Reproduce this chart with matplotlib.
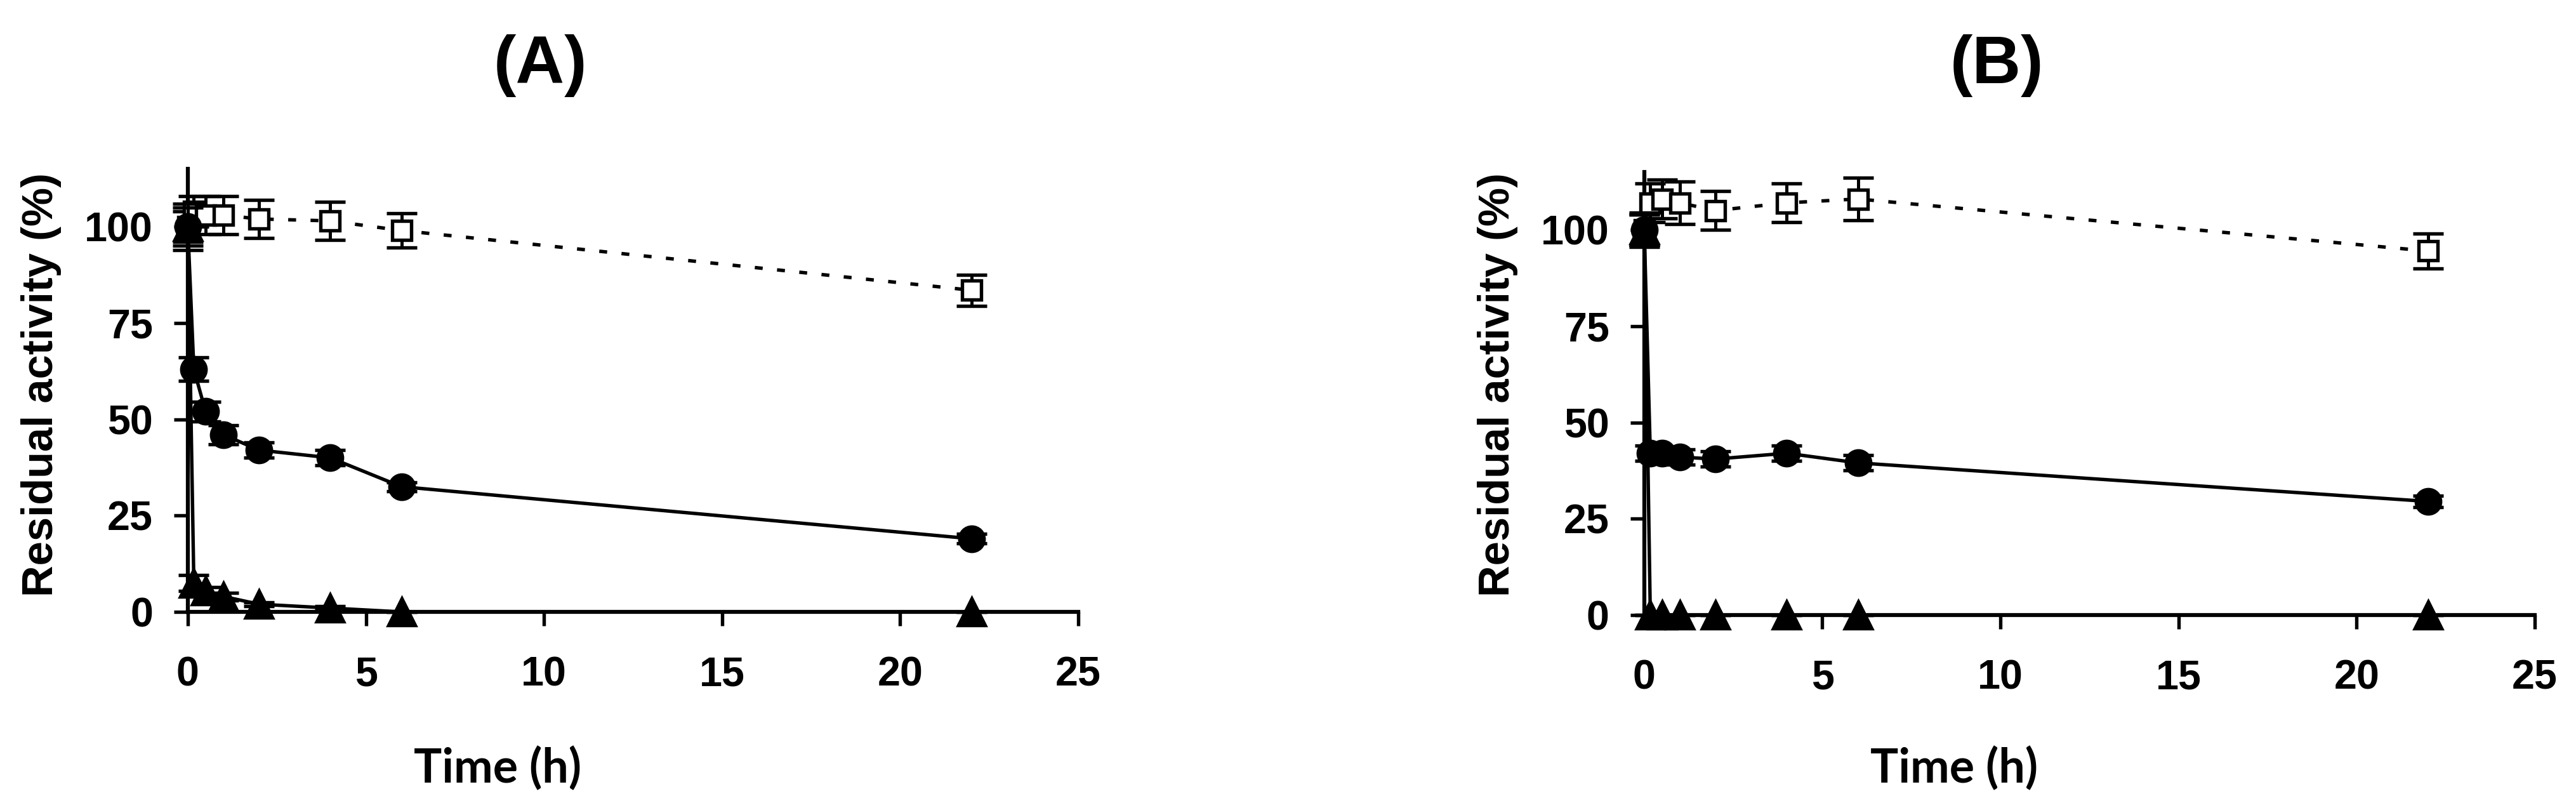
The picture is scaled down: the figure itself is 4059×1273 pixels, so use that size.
import matplotlib
matplotlib.use('Agg')
import matplotlib.pyplot as plt

plt.rcParams['font.family'] = ['Liberation Sans', 'DejaVu Sans']
plt.rcParams['font.weight'] = 'bold'

"""sampling times (h), same for both panels"""
time_h = [0, 0.17, 0.5, 1, 2, 4, 6, 22]

"""panel A values read off the picture"""
sq_a = [100, 104, 103, 103, 102, 101.5, 99, 83.5]
sq_a_err = [4, 4, 5, 5, 5, 5, 4.5, 4]
circ_a = [100, 63, 52, 46, 42, 40, 32.5, 19]
circ_a_err = [5, 3, 2.5, 2.5, 2, 2, 1.2, 1.2]
tri_a = [100, 7.5, 5.5, 4, 2, 1, 0, 0]
tri_a_err = [6, 2, 1, 1, 0.5, 0.5, 0, 0]

"""panel B values"""
sq_b = [100, 107, 108, 107, 105, 107, 108, 94.5]
sq_b_err = [4.5, 5, 5, 5.5, 5, 5, 5.5, 4.5]
circ_b = [100, 42, 42, 41, 40.5, 42, 39.5, 29.5]
circ_b_err = [4, 2, 1.5, 2, 2, 2, 2, 1.5]
tri_b = [100, 0, 0, 0, 0, 0, 0, 0]
tri_b_err = [4, 0, 0, 0, 0, 0, 0, 0]

x_ticks = [0, 5, 10, 15, 20, 25]
y_ticks = [0, 25, 50, 75, 100]


def add_series(ax, y, err, marker, ms, face, dashes, z):
    eb = ax.errorbar(time_h, y, yerr=err, fmt='none', ecolor='black',
                     elinewidth=1.2, capsize=5.8, capthick=1.3, zorder=z)
    for part in eb.get_children():
        part.set_clip_on(False)
    line, = ax.plot(time_h, y, color='black', lw=1.3, marker=marker, ms=ms,
                    mfc=face, mec='black', mew=1.3, clip_on=False, zorder=z + 0.5)
    if dashes is not None:
        line.set_dashes(dashes)
        line.set_dash_capstyle('butt')


def draw_panel(ax, sq, sq_err, circ, circ_err, tri, tri_err):
    add_series(ax, sq, sq_err, 's', 7.2, 'white', (2.3, 4.2), 3)
    add_series(ax, circ, circ_err, 'o', 9.2, 'black', None, 4)
    add_series(ax, tri, tri_err, '^', 10, 'black', None, 5)
    ax.set_xlim(0, 25)
    ax.set_ylim(0, 115)
    ax.set_xticks(x_ticks)
    ax.set_yticks(y_ticks)
    for side in ['top', 'right']:
        ax.spines[side].set_visible(False)
    for side in ['left', 'bottom']:
        ax.spines[side].set_linewidth(1.5)
    ax.tick_params(axis='both', direction='out', length=5.2, width=1.3, labelsize=15.5)
    ax.tick_params(axis='x', pad=11.5)
    ax.tick_params(axis='y', pad=8)
    for lab in ax.get_xticklabels() + ax.get_yticklabels():
        lab.set_fontweight('bold')


fig = plt.figure(figsize=(4059 / 300, 1273 / 300), dpi=300)
ax_a = fig.add_axes([0.0729, 0.2427, 0.3457, 0.5483])
ax_b = fig.add_axes([0.6383, 0.2388, 0.3457, 0.5483])

draw_panel(ax_a, sq_a, sq_a_err, circ_a, circ_a_err, tri_a, tri_a_err)
draw_panel(ax_b, sq_b, sq_b_err, circ_b, circ_b_err, tri_b, tri_b_err)

"""titles and axis labels placed as in the original figure"""
fig.text(0.2097, 0.8971, '(A)', ha='center', va='baseline', fontsize=25.5, fontweight='bold')
fig.text(0.7751, 0.8971, '(B)', ha='center', va='baseline', fontsize=25.5, fontweight='bold')

fig.text(0.1932, 0.0314, 'Time (h)', ha='center', va='baseline', fontsize=17.7,
         family=['Lato', 'DejaVu Sans'], fontweight='bold')
fig.text(0.7586, 0.0314, 'Time (h)', ha='center', va='baseline', fontsize=17.7,
         family=['Lato', 'DejaVu Sans'], fontweight='bold')

fig.text(0.016, 0.524, 'Residual activity (%)', rotation=90, ha='center', va='center',
         fontsize=16.5, fontweight='bold')
fig.text(0.5814, 0.524, 'Residual activity (%)', rotation=90, ha='center', va='center',
         fontsize=16.5, fontweight='bold')

fig.savefig('out.png', dpi=300)
